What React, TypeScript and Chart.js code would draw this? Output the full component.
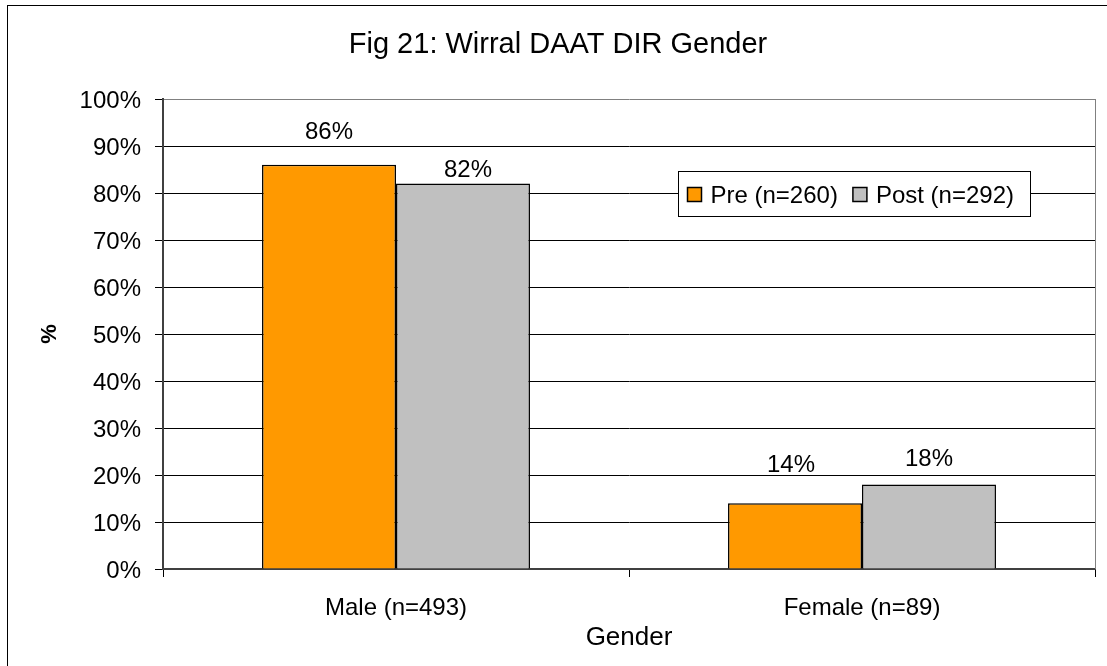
import React, { useEffect, useRef } from "react";
import { Chart, registerables } from "chart.js";

Chart.register(...registerables);

const TITLE = "Fig 21: Wirral DAAT DIR Gender";
const X_TITLE = "Gender";
const Y_TITLE = "%";
const categories = ["Male (n=493)", "Female (n=89)"];
const seriesNames = ["Pre (n=260)", "Post (n=292)"];
const preValues = [86, 14];
const postValues = [82, 18];
const seriesColors = ["#FF9900", "#C0C0C0"];
const Y_MIN = 0;
const Y_MAX = 100;
const Y_STEP = 10;

// label placement relative to bar top (style, not data)
const labelGaps = [
  [26, 31],
  [7, 18],
];
const labelShiftX = [
  [0, -4],
  [5, 0],
];

const W = 1107;
const H = 666;
const FONT = "'Liberation Sans', Arial, Helvetica, sans-serif";

const decor = {
  id: "decor",
  beforeDraw(chart: any) {
    const ctx = chart.ctx;
    ctx.save();
    ctx.fillStyle = "#fff";
    ctx.fillRect(0, 0, chart.width, chart.height);
    ctx.restore();
  },
  afterDatasetsDraw(chart: any) {
    const { ctx, chartArea: a } = chart;
    ctx.save();
    // plot area right border
    ctx.strokeStyle = "#808080";
    ctx.lineWidth = 1;
    const rx = Math.round(a.right) + 0.5;
    ctx.beginPath();
    ctx.moveTo(rx, a.top);
    ctx.lineTo(rx, a.bottom);
    ctx.stroke();

    // data labels
    ctx.font = `24px ${FONT}`;
    ctx.fillStyle = "#000";
    ctx.textAlign = "center";
    ctx.textBaseline = "alphabetic";
    chart.data.datasets.forEach((ds: any, di: number) => {
      const meta = chart.getDatasetMeta(di);
      meta.data.forEach((el: any, i: number) => {
        const v = ds.data[i];
        ctx.fillText(`${v}%`, el.x + labelShiftX[di][i], el.y - labelGaps[di][i]);
      });
    });

    // legend box
    const bx = 678.5, by = 171.5, bw = 352, bh = 45;
    ctx.fillStyle = "#fff";
    ctx.fillRect(bx, by, bw, bh);
    ctx.strokeStyle = "#000";
    ctx.lineWidth = 1;
    ctx.strokeRect(bx, by, bw, bh);
    ctx.font = `24px ${FONT}`;
    ctx.textAlign = "left";
    let x = 687.5;
    chart.data.datasets.forEach((ds: any) => {
      ctx.fillStyle = ds.backgroundColor;
      ctx.fillRect(x, 187.5, 14, 14);
      ctx.strokeStyle = "#000";
      ctx.lineWidth = 1.5;
      ctx.strokeRect(x, 187.5, 14, 14);
      ctx.fillStyle = "#000";
      ctx.fillText(ds.label, x + 23, 203);
      x += 23 + ctx.measureText(ds.label).width + 15;
    });

    // title
    ctx.textAlign = "center";
    ctx.font = `29px ${FONT}`;
    ctx.fillStyle = "#000";
    ctx.fillText(TITLE, 558, 53);

    // outer frame
    ctx.strokeStyle = "#000";
    ctx.lineWidth = 1;
    ctx.strokeRect(7.5, 5.5, W + 20, H + 20);
    ctx.restore();
  },
};

export default function App() {
  const ref = useRef<HTMLCanvasElement | null>(null);
  useEffect(() => {
    if (!ref.current) return;
    const chart = new Chart(ref.current, {
      type: "bar",
      data: {
        labels: categories,
        datasets: [
          {
            label: seriesNames[0],
            data: preValues,
            backgroundColor: seriesColors[0],
            borderColor: "#000",
            borderWidth: 1.5,
            barPercentage: 1,
            categoryPercentage: 0.575,
          },
          {
            label: seriesNames[1],
            data: postValues,
            backgroundColor: seriesColors[1],
            borderColor: "#000",
            borderWidth: 1.5,
            barPercentage: 1,
            categoryPercentage: 0.575,
          },
        ],
      },
      options: {
        responsive: false,
        animation: false,
        devicePixelRatio: 1,
        layout: { padding: { top: 99, right: 12, left: 0, bottom: 0 } },
        plugins: {
          legend: { display: false },
          title: { display: false },
          tooltip: { enabled: false },
        },
        scales: {
          x: {
            ticks: { font: { family: FONT, size: 24 }, color: "#000", padding: 17 },
            grid: {
              offset: true,
              drawOnChartArea: false,
              drawTicks: true,
              tickLength: 8,
              color: "#000",
            },
            border: { color: "#404040", width: 2 },
            title: {
              display: true,
              text: X_TITLE,
              font: { family: FONT, size: 26 },
              color: "#000",
              padding: { top: 0, bottom: 13 },
            },
            afterFit: (s: any) => {
              s.height = 97;
            },
          },
          y: {
            min: Y_MIN,
            max: Y_MAX,
            ticks: {
              stepSize: Y_STEP,
              callback: (v: any) => `${v}%`,
              font: { family: FONT, size: 24 },
              color: "#000",
              padding: 14,
              labelOffset: 2,
            },
            grid: {
              color: (c: any) => (c.tick && c.tick.value === Y_MAX ? "#808080" : "#000"),
              tickColor: "#000",
              lineWidth: 1,
              tickLength: 8,
              drawTicks: true,
            },
            border: { color: "#404040", width: 2 },
            title: {
              display: true,
              text: Y_TITLE,
              font: { family: FONT, size: 22, weight: "bold" },
              color: "#000",
              padding: { top: 37, bottom: 0 },
            },
            afterFit: (s: any) => {
              s.width = 163;
            },
          },
        },
      },
      plugins: [decor],
    });
    return () => chart.destroy();
  }, []);
  return (
    <canvas
      ref={ref}
      width={W}
      height={H}
      style={{ position: "absolute", left: 0, top: 0, display: "block" }}
    />
  );
}
